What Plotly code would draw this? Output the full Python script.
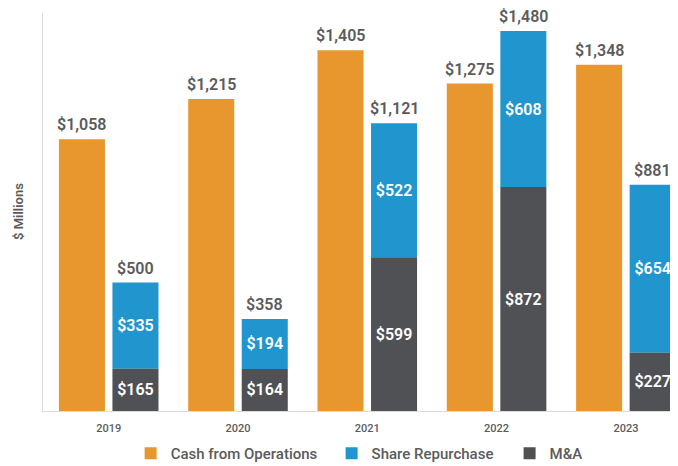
import plotly.graph_objects as go

years = ["2019", "2020", "2021", "2022", "2023"]
cash_ops = [1058, 1215, 1405, 1275, 1348]
share_rep = [335, 194, 522, 608, 654]
m_and_a = [165, 164, 599, 872, 227]
totals = [500, 358, 1121, 1480, 881]

ORANGE = "#E8962E"
BLUE = "#2196CE"
DARK = "#505155"
GRAY_TXT = "#5b5b5b"
FONT = "Roboto"

def money(v):
    return "${:,}".format(v)

BARGAP = 0.172
fig = go.Figure()

fig.add_trace(go.Bar(
    x=years, y=cash_ops, name="Cash from Operations", offsetgroup="a",
    marker=dict(color=ORANGE, line=dict(width=0)),
    legend="legend",
))
fig.add_trace(go.Bar(
    x=years, y=share_rep, base=m_and_a, name="Share Repurchase", offsetgroup="b",
    marker=dict(color=BLUE, line=dict(width=0)),
    text=[money(v) for v in share_rep], textposition="inside", insidetextanchor="middle",
    textfont=dict(family=FONT, size=16, color="white", weight=600),
    legend="legend2",
))
fig.add_trace(go.Bar(
    x=years, y=m_and_a, name="M&A", offsetgroup="b",
    marker=dict(color=DARK, line=dict(width=0)),
    text=[money(v) for v in m_and_a], textposition="inside", insidetextanchor="middle",
    textfont=dict(family=FONT, size=16, color="white", weight=600),
    legend="legend3",
))

offset = (1 - BARGAP) / 4
label_font = dict(family=FONT, size=16, color=GRAY_TXT, weight=600)
for i, v in enumerate(cash_ops):
    fig.add_annotation(x=i - offset, y=v, xref="x", yref="y", text=money(v),
                       showarrow=False, yanchor="bottom", yshift=3, font=label_font)
for i, t in enumerate(totals):
    fig.add_annotation(x=i + offset, y=t, xref="x", yref="y", text=money(t),
                       showarrow=False, yanchor="bottom", yshift=3, font=label_font)

fig.add_annotation(
    x=0, xref="paper", y=0.5, yref="paper", xshift=-25, text="$ Millions",
    textangle=-90, showarrow=False, xanchor="center", yanchor="middle",
    font=dict(family=FONT, size=13, color=GRAY_TXT, weight=600),
)

leg_common = dict(orientation="h", xanchor="left", y=-0.107, yanchor="middle",
                  font=dict(family=FONT, size=15, color=GRAY_TXT, weight=500))

fig.update_layout(
    width=670, height=462,
    margin=dict(l=35, r=0, t=5, b=56),
    barmode="group", bargap=BARGAP, bargroupgap=0.14,
    plot_bgcolor="white", paper_bgcolor="white",
    font=dict(family=FONT, color=GRAY_TXT),
    showlegend=True,
    legend=dict(x=0.138, **leg_common),
    legend2=dict(x=0.4545, **leg_common),
    legend3=dict(x=0.7348, **leg_common),
    xaxis=dict(
        type="category", range=[-0.508, 4.403], automargin=False,
        showline=True, linecolor="#dcdcdc", linewidth=1, ticklabelstandoff=7,
        showgrid=False, ticks="", tickfont=dict(family=FONT, size=11, color=GRAY_TXT, weight=500),
    ),
    yaxis=dict(
        range=[0, 1550], automargin=False, showline=True, linecolor="#dcdcdc", linewidth=1,
        showgrid=False, zeroline=False, showticklabels=False, ticks="",
    ),
)

fig.write_html("out.html")
